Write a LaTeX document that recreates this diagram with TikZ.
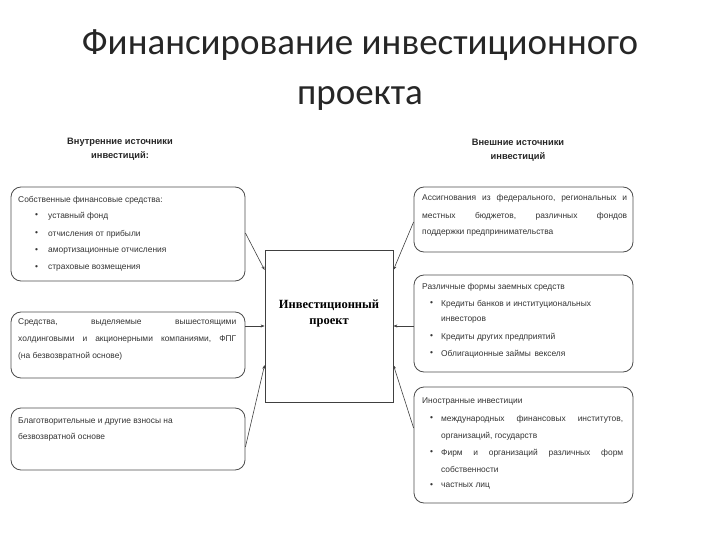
\documentclass[tikz,border=0pt]{standalone}
\usepackage{fontspec}
\setmainfont{Liberation Sans}
\newfontfamily\titlefont{Carlito}
\newfontfamily\serifb{Liberation Serif}
\usetikzlibrary{arrows.meta}
\begin{document}
\begin{tikzpicture}[x=1pt,y=-1pt,
  box/.style={draw=black!70,rounded corners=10pt,line width=0.8pt},
  txt/.style={anchor=west,inner sep=0pt,font=\fontsize{8.4}{17}\selectfont,text=black!80},
  jl/.style={anchor=west,inner sep=0pt,font=\fontsize{8.4}{17}\selectfont,text=black!80,text width=#1},
  hdr/.style={align=center,font=\bfseries\fontsize{9.3}{13.5}\selectfont,text=black!85},
  con/.style={draw=black!75,line width=0.6pt,-{Stealth[length=4pt,width=3pt]}}]
\useasboundingbox (0,0) rectangle (720,540);
\node[font=\titlefont\fontsize{37}{50}\selectfont,align=center,text=black!85] (title) at (360,70) {Финансирование инвестиционного\\проекта};
\node[hdr] (hl) at (120,149) {Внутренние источники\\инвестиций:};
\node[hdr] (hr) at (518,150) {Внешние источники\\инвестиций};
% center
\node[draw=black!75,line width=0.8pt,minimum width=128pt,minimum height=152pt,inner sep=0pt] (c) at (329,326) {};
\node[align=center,font=\serifb\bfseries\fontsize{12.5}{16}\selectfont] (ct) at (329,314) {Инвестиционный\\проект};
% left boxes
\node[box,minimum width=234pt,minimum height=94pt] (l1) at (128,234) {};
\node[box,minimum width=234pt,minimum height=66pt] (l2) at (128,345) {};
\node[box,minimum width=234pt,minimum height=62pt] (l3) at (128,439) {};
% right boxes
\node[box,minimum width=219pt,minimum height=65pt] (r1) at (523.5,219.5) {};
\node[box,minimum width=219pt,minimum height=97pt] (r2) at (523.5,323.5) {};
\node[box,minimum width=219pt,minimum height=116pt] (r3) at (523.5,445) {};
% left texts
\node[txt] (a0) at (18,200) {Собственные финансовые средства:};
\foreach \y/\t [count=\i] in {216/уставный фонд,234/отчисления от прибыли,251/амортизационные отчисления,268/страховые возмещения}{
  \node[txt] (ab\i) at (35,\y) {\textbullet};
  \node[txt] (at\i) at (48,\y) {\t};}
\node[jl=218pt] (b1) at (18,322) {Средства,\hfill выделяемые\hfill вышестоящими};
\node[jl=218pt] (b2) at (18,339) {холдинговыми\hfill и\hfill акционерными\hfill компаниями,\hfill ФПГ};
\node[txt] (b3) at (18,356) {(на безвозвратной основе)};
\node[txt] (d1) at (18,421) {Благотворительные и другие взносы на};
\node[txt] (d2) at (18,437) {безвозвратной основе};
% right texts
\node[jl=205pt] (e1) at (422,198) {Ассигнования\hfill из\hfill федерального,\hfill региональных\hfill и};
\node[jl=205pt] (e2) at (422,216) {местных\hfill бюджетов,\hfill различных\hfill фондов};
\node[txt] (e3) at (422,233) {поддержки предпринимательства};
\node[txt] (f0) at (422,287) {Различные формы заемных средств};
\foreach \y/\t [count=\i] in {304/Кредиты банков и институциональных,337/Кредиты других предприятий,354/Облигационные займы\, векселя}{
  \node[txt] (fb\i) at (430,\y) {\textbullet};
  \node[txt] (ft\i) at (441,\y) {\t};}
\node[txt] (ft4) at (441,320) {инвесторов};
\node[txt] (g0) at (422,401) {Иностранные инвестиции};
\foreach \y [count=\i] in {419,453,486}{\node[txt] (gb\i) at (430,\y) {\textbullet};}
\node[jl=182pt] (g1) at (441,419) {международных\hfill финансовых\hfill институтов,};
\node[txt] (g1b) at (441,436) {организаций, государств};
\node[jl=182pt] (g2) at (441,453) {Фирм\hfill и\hfill организаций\hfill различных\hfill форм};
\node[txt] (g2b) at (441,469) {собственности};
\node[txt] (g3) at (441,486) {частных лиц};
% connectors
\coordinate (cl1) at (c.west |- 0,270); \coordinate (cl2) at (c.west |- 0,326); \coordinate (cl3) at (c.west |- 0,365);
\coordinate (cr1) at (c.east |- 0,270); \coordinate (cr2) at (c.east |- 0,326); \coordinate (cr3) at (c.east |- 0,365);
\draw[con] (l1.east |- 0,233) -- (cl1);
\draw[con] (l2.east |- 0,326) -- (cl2);
\draw[con] (l3.east |- 0,447) -- (cl3);
\draw[con] (r1.west |- 0,222) -- (cr1);
\draw[con] (r2.west |- 0,326) -- (cr2);
\draw[con] (r3.west |- 0,428) -- (cr3);
\end{tikzpicture}
\end{document}
